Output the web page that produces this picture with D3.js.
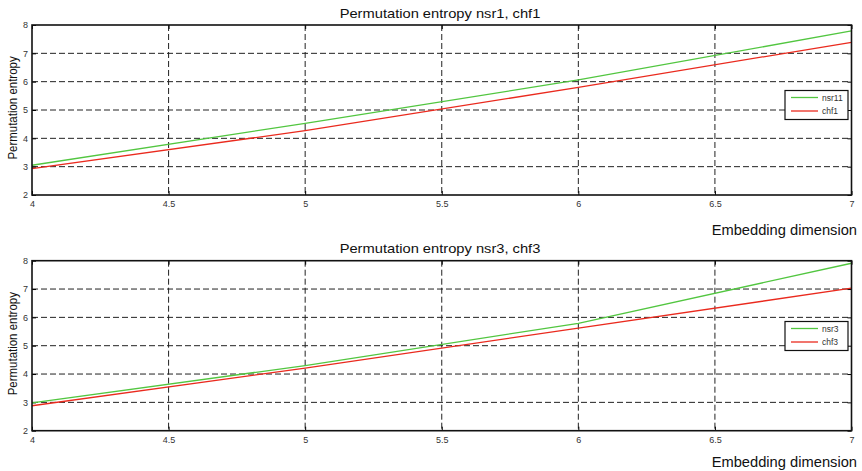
<!DOCTYPE html>
<html>
<head>
<meta charset="utf-8">
<script src="https://cdn.jsdelivr.net/npm/d3@7"></script>
<style>
  body { margin: 0; background: #fff; }
  text { font-family: "Liberation Sans", Arial, sans-serif; }
</style>
</head>
<body>
<div class="chart"></div>
<script>
// embedding dimensions and entropy values
var dims = [4, 5, 6, 7];
var nsr11 = [3.05, 4.53, 6.06, 7.79];
var chf1 = [2.93, 4.27, 5.80, 7.39];
var nsr3 = [2.98, 4.30, 5.79, 7.91];
var chf3 = [2.88, 4.21, 5.62, 7.03];
var xTicks = [4, 4.5, 5, 5.5, 6, 6.5, 7];
var yTicks = [2, 3, 4, 5, 6, 7, 8];

var svgWidth = 862;
var svgHeight = 471;

var green = "#52c640";
var red = "#ea2a1e";

var svg = d3.select(".chart").append("svg")
    .attr("width", svgWidth)
    .attr("height", svgHeight);

var xScale = d3.scaleLinear().domain([4, 7]).range([32, 851.5]);

function drawPanel(top, title, names, series, legendTop, xLabelY) {
    var yScale = d3.scaleLinear().domain([2, 8]).range([top + 170, top]);
    var g = svg.append("g");

    // grid
    g.selectAll(".gx").data(xTicks.slice(1, -1)).enter().append("line")
        .attr("x1", d => xScale(d)).attr("x2", d => xScale(d))
        .attr("y1", top).attr("y2", top + 170)
        .attr("stroke", "#222").attr("stroke-width", 1)
        .attr("stroke-dasharray", "6,3");
    g.selectAll(".gy").data(yTicks.slice(1, -1)).enter().append("line")
        .attr("x1", 32).attr("x2", 851.5)
        .attr("y1", d => yScale(d)).attr("y2", d => yScale(d))
        .attr("stroke", "#222").attr("stroke-width", 1)
        .attr("stroke-dasharray", "6,3");

    // axes with inward ticks
    var xAxis = d3.axisBottom(xScale).tickValues(xTicks).tickSize(-4).tickPadding(5.5)
        .tickFormat(d3.format("~g"));
    var yAxis = d3.axisLeft(yScale).tickValues(yTicks).tickSize(-4).tickPadding(4)
        .tickFormat(d3.format("d"));
    var xa = g.append("g").attr("transform", `translate(0, ${top + 170})`).call(xAxis);
    var ya = g.append("g").attr("transform", "translate(32, 0)").call(yAxis);
    g.append("g").attr("transform", `translate(0, ${top})`)
        .call(d3.axisTop(xScale).tickValues(xTicks).tickSize(-4).tickFormat(""));
    g.append("g").attr("transform", "translate(851.5, 0)")
        .call(d3.axisRight(yScale).tickValues(yTicks).tickSize(-4).tickFormat(""));
    g.selectAll(".domain").remove();
    g.selectAll(".tick line").attr("stroke", "#000");
    [xa, ya].forEach(a => a.selectAll("text")
        .style("font-size", "9px").attr("fill", "#333")
        .style("font-family", "'Liberation Sans', Arial, sans-serif"));

    // lines
    var line = d3.line().x((d, i) => xScale(dims[i])).y(d => yScale(d));
    var colors = [green, red];
    series.forEach(function (s, k) {
        g.append("path").datum(s)
            .attr("d", line)
            .attr("fill", "none")
            .attr("stroke", colors[k])
            .attr("stroke-width", 1.3);
    });

    // box
    g.append("rect")
        .attr("x", 32).attr("y", top)
        .attr("width", 851.5 - 32).attr("height", 170)
        .attr("fill", "none").attr("stroke", "#111").attr("stroke-width", 1.6);

    // titles
    g.append("text")
        .attr("transform", `translate(440, ${top - 7.5}) scale(1.13, 1)`)
        .attr("text-anchor", "middle").style("font-size", "13px").attr("fill", "#111")
        .text(title);
    g.append("text").attr("x", 857).attr("y", xLabelY)
        .attr("text-anchor", "end").style("font-size", "14.7px").attr("fill", "#111")
        .text("Embedding dimension");
    g.append("text")
        .attr("transform", `translate(17, ${top + 83}) rotate(-90) scale(0.85, 1)`)
        .attr("text-anchor", "middle").style("font-size", "13.5px").attr("fill", "#111")
        .text("Permutation entropy");

    // legend
    var lg = g.append("g");
    lg.append("rect").attr("x", 785).attr("y", legendTop)
        .attr("width", 63).attr("height", 29)
        .attr("fill", "#fff").attr("stroke", "#111").attr("stroke-width", 1.2);
    names.forEach(function (n, k) {
        var yy = legendTop + 7 + k * 13.5;
        lg.append("line").attr("x1", 791).attr("x2", 818)
            .attr("y1", yy).attr("y2", yy)
            .attr("stroke", colors[k]).attr("stroke-width", 1.3);
        lg.append("text").attr("x", 822).attr("y", yy + 3)
            .style("font-size", "8.5px").attr("fill", "#333").text(n);
    });
}

drawPanel(25, "Permutation entropy nsr1, chf1", ["nsr11", "chf1"], [nsr11, chf1], 90.5, 235);
drawPanel(260.7, "Permutation entropy nsr3, chf3", ["nsr3", "chf3"], [nsr3, chf3], 321.5, 467);
</script>
</body>
</html>
